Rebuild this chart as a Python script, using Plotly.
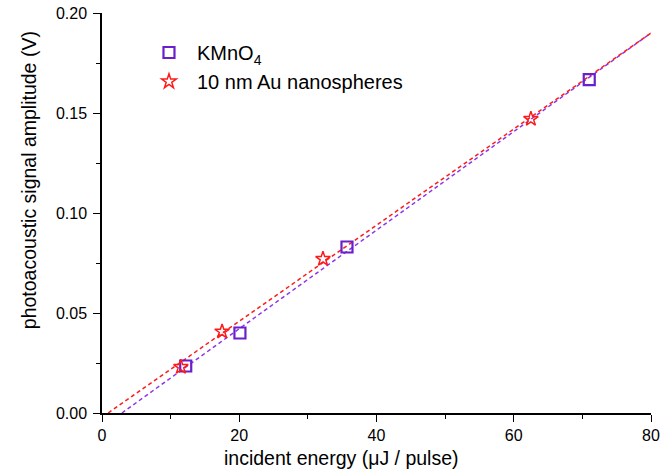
import plotly.graph_objects as go

# Data
kmno4_x = [12.2, 20.1, 35.7, 71.0]
kmno4_y = [0.0235, 0.0400, 0.0830, 0.1667]
au_x = [11.5, 17.5, 32.2, 62.5]
au_y = [0.0230, 0.0407, 0.0770, 0.1470]

# Linear-fit lines (endpoints)
kmno4_fit_x = [2.9, 80.0]
kmno4_fit_y = [0.0, 0.1900]
au_fit_x = [0.9, 80.0]
au_fit_y = [0.0, 0.1900]

x_ticks = [0, 20, 40, 60, 80]
y_ticks = [0.00, 0.05, 0.10, 0.15, 0.20]
y_tick_labels = ["0.00", "0.05", "0.10", "0.15", "0.20"]

x_title = "incident energy (\u03bcJ / pulse)"
y_title = "photoacoustic signal amplitude (V)"

purple = "#6a1fcc"
purple_line = "#8a35ea"
red = "#ff1a1a"
font_family = "Liberation Sans, Arial, Helvetica, sans-serif"

fig = go.Figure()
fig.add_trace(go.Scatter(x=kmno4_fit_x, y=kmno4_fit_y, mode="lines",
                         line=dict(color=purple_line, width=1.5, dash="4px,3px"),
                         showlegend=False, hoverinfo="skip"))
fig.add_trace(go.Scatter(x=au_fit_x, y=au_fit_y, mode="lines",
                         line=dict(color=red, width=1.5, dash="4px,3px"),
                         showlegend=False, hoverinfo="skip"))
fig.add_trace(go.Scatter(x=kmno4_x, y=kmno4_y, mode="markers", name="KMnO<sub>4</sub>",
                         marker=dict(symbol="square-open", size=11, color=purple,
                                     line=dict(width=2.2, color=purple))))
fig.add_trace(go.Scatter(x=au_x, y=au_y, mode="markers", name="10 nm Au nanospheres",
                         marker=dict(symbol="star-open", size=11, color=red,
                                     line=dict(width=1.5, color=red))))

axis_common = dict(showline=True, linecolor="black", linewidth=1.5, mirror=False,
                   ticks="outside", ticklen=7, tickwidth=1.3, tickcolor="black",
                   showgrid=False, zeroline=False, automargin=False,
                   ticklabeloverflow="allow",
                   tickfont=dict(size=16, color="black", family=font_family))

fig.update_xaxes(range=[0, 80], tickvals=x_ticks,
                 minor=dict(ticks="outside", ticklen=4, tickwidth=1.3, tickcolor="black", dtick=10),
                 **axis_common)
fig.update_yaxes(range=[0, 0.2], tickvals=y_ticks, ticktext=y_tick_labels, ticklabelstandoff=3,
                 minor=dict(ticks="outside", ticklen=4, tickwidth=1.3, tickcolor="black", dtick=0.025),
                 **axis_common)

fig.add_annotation(text=x_title, xref="paper", yref="paper", x=0.437, y=0,
                   xanchor="center", yanchor="middle", yshift=-45, showarrow=False,
                   font=dict(size=19.5, color="black", family=font_family))
fig.add_annotation(text=y_title, xref="paper", yref="paper", x=0, y=0.582,
                   xanchor="center", yanchor="middle", xshift=-73, textangle=-90, showarrow=False,
                   font=dict(size=19.5, color="black", family=font_family))

fig.update_layout(width=671, height=475,
                  margin=dict(l=102, r=20, t=13, b=62),
                  plot_bgcolor="white", paper_bgcolor="white",
                  font=dict(family=font_family, color="black"),
                  legend=dict(x=0.071, y=0.95, xanchor="left", yanchor="top",
                              bgcolor="rgba(0,0,0,0)", font=dict(size=20, family=font_family),
                              itemwidth=46, tracegroupgap=0))

fig.write_html("out.html", config={"displayModeBar": False},
               post_script="document.body.style.margin='0';document.body.style.padding='0';")
